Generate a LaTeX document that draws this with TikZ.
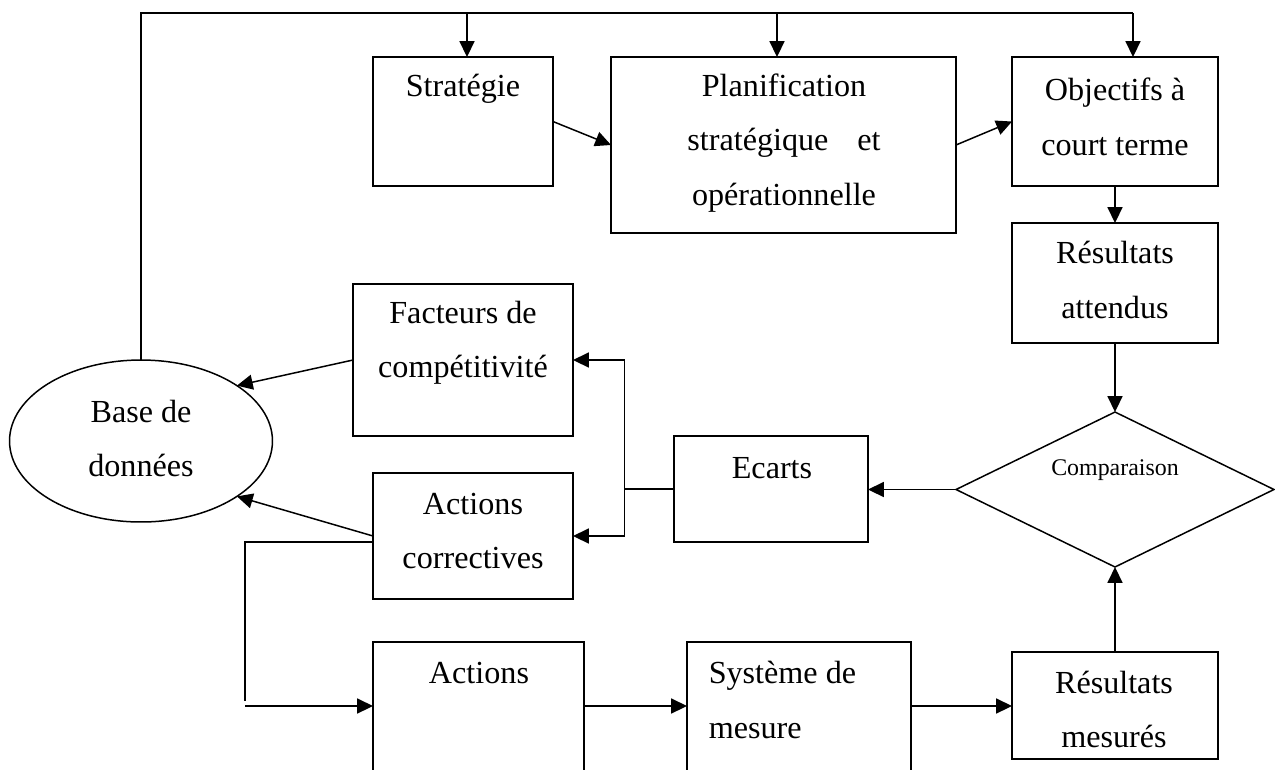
\documentclass[tikz,border=0pt]{standalone}
\usepackage{fontspec}
\setmainfont{Liberation Serif}
\usetikzlibrary{arrows.meta,shapes.geometric}
\begin{document}
\begin{tikzpicture}[x=0.02cm,y=-0.02cm,
  line width=0.85pt,
  box/.style={draw,rectangle,inner sep=0pt,outer sep=0pt},
  rond/.style={draw,ellipse,inner sep=0pt,outer sep=0pt},
  losange/.style={draw,diamond,inner sep=0pt,outer sep=0pt},
  txt/.style={align=center,inner sep=0pt,font=\fontsize{18.3}{31}\selectfont},
  petit/.style={inner sep=0pt,font=\fontsize{13.6}{16}\selectfont},
  fl/.style={-{Triangle[length=9pt,width=8.5pt]}}]
\useasboundingbox (0,0) rectangle (1275,769);
\clip (0,0) rectangle (1275,769);

% boxes
\node[box,minimum width=3.6cm,minimum height=2.58cm] (strat) at (463,121.5) {};
\node[box,minimum width=6.9cm,minimum height=3.52cm] (plan) at (783.5,145) {};
\node[box,minimum width=4.12cm,minimum height=2.58cm] (obj) at (1115,121.5) {};
\node[box,minimum width=4.12cm,minimum height=2.4cm] (ra) at (1115,283) {};
\node[box,minimum width=4.4cm,minimum height=3.04cm] (fact) at (463,360) {};
\node[box,minimum width=4.0cm,minimum height=2.52cm] (ac) at (473,536) {};
\node[box,minimum width=3.88cm,minimum height=2.12cm] (ecarts) at (771,489) {};
\node[losange,minimum width=6.36cm,minimum height=3.1cm] (comp) at (1115,489.5) {};
\node[box,minimum width=4.22cm,minimum height=3.16cm] (actions) at (478.5,721) {};
\node[box,minimum width=4.48cm,minimum height=3.16cm] (sys) at (799,721) {};
\node[box,minimum width=4.12cm,minimum height=2.14cm] (rm) at (1115,705.5) {};
\node[rond,minimum width=5.26cm,minimum height=3.24cm] (db) at (141,441) {};

% labels
\node[txt] (strat-t) at (463,89) {Stratégie};
\node[txt] (plan-t) at (784,143) {Planification\\stratégique\hspace{0.9em}et\\opérationnelle};
\node[txt] (obj-t) at (1115,117) {Objectifs à\\court terme};
\node[txt] (ra-t) at (1115,280) {Résultats\\attendus};
\node[txt] (fact-t) at (463,342.5) {Facteurs de\\compétitivité};
\node[txt] (db-t) at (141,438.5) {Base de\\données};
\node[txt] (ac-t) at (473,531) {Actions\\correctives};
\node[txt] (ecarts-t) at (772,468) {Ecarts};
\node[petit] (comp-t) at (1115,470) {Comparaison};
\node[txt] (actions-t) at (479,673) {Actions};
\node[txt,align=left,anchor=west] (sys-t) at (708,700) {Système de\\mesure};
\node[txt] (rm-t) at (1114,709.5) {Résultats\\mesurés};

% feedback line from the database along the top
\coordinate (t1) at (467,13);
\coordinate (t2) at (777,13);
\coordinate (t3) at (1133,13);
\draw (db.north) |- (t3);
\draw[fl] (t1) -- (t1 |- strat.north);
\draw[fl] (t2) -- (t2 |- plan.north);
\draw[fl] (t3) -- (t3 |- obj.north);

% main chain
\draw[fl] (strat.east) -- (plan.west);
\draw[fl] (plan.east) -- (obj.west);
\draw[fl] (obj.south) -- (ra.north);
\draw[fl] (ra.south) -- (comp.north);
\draw[fl] (comp.west) -- (ecarts.east |- comp.west);
\draw[fl] (rm.north) -- (comp.south);

% gaps feed competitiveness factors and corrective actions
\coordinate (j) at (624.5,489);
\draw (ecarts.west) -- (j);
\draw[fl] (j) |- (fact.east);
\draw[fl] (j) |- (ac.east);

% into the database
\draw[fl] (fact.west) -- (db.30);
\draw[fl] (ac.west) -- (db.-30);

% corrective actions loop down to actions
\coordinate (c1) at (245,542);
\coordinate (c2) at (245,701);
\coordinate (c3) at (245,706);
\draw (c1 -| ac.west) -- (c1) -- (c2);
\draw[fl] (c3) -- (c3 -| actions.west);
\draw[fl] (actions.east |- c3) -- (sys.west |- c3);
\draw[fl] (sys.east |- c3) -- (rm.west |- c3);
\end{tikzpicture}
\end{document}
